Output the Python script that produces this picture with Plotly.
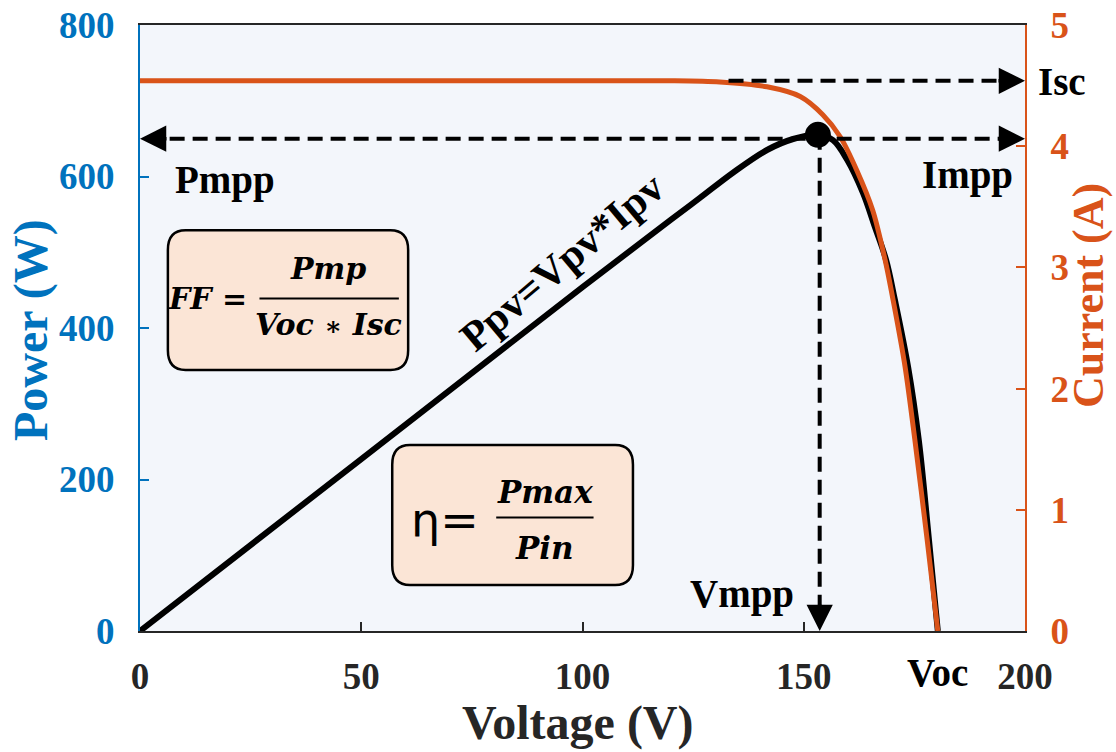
import plotly.graph_objects as go

# ---------------- data ----------------
voltage_i = [0, 20, 40, 60, 80, 100, 120, 131, 141.7, 149.2, 154.3, 158.2, 162.0,
             165.6, 168.4, 170.2, 172.9, 175.1, 177.9, 180.3]
current = [4.54, 4.54, 4.54, 4.54, 4.54, 4.54, 4.54, 4.53, 4.49, 4.41, 4.26, 4.08,
           3.80, 3.47, 3.06, 2.73, 2.18, 1.58, 0.75, 0.0]

voltage_p = [0, 50, 100, 120, 126.6, 134, 141.7, 147.6, 153.2, 156.6, 159.8, 163.4,
             166.1, 168.6, 170.6, 173.6, 176, 178.3, 180.3]
power = [0, 227, 454, 543, 572, 605, 635, 649.5, 655, 648, 622, 578, 533, 490, 437,
         348, 252, 120, 0]

v_mpp, p_mpp = 153.2, 655
p_line = 650
isc = 4.54
isc_start = 133

x_ticks = [0, 50, 100, 150, 200]
p_ticks = [0, 200, 400, 600, 800]
i_ticks = [0, 1, 2, 3, 4, 5]

BLUE = "#0072BD"
ORANGE = "#D95319"
DARK = "#262626"
SERIF = "Liberation Serif"
MATH = "DejaVu Serif"
BOX_FILL = "#FBE5D6"

fig = go.Figure()

fig.add_trace(go.Scatter(x=voltage_p, y=power, mode="lines", yaxis="y",
                         line=dict(color="black", width=6, shape="spline", smoothing=1.0),
                         showlegend=False, hoverinfo="skip"))
fig.add_trace(go.Scatter(x=voltage_i, y=current, mode="lines", yaxis="y2",
                         line=dict(color=ORANGE, width=5, shape="spline", smoothing=0.8),
                         showlegend=False, hoverinfo="skip"))
fig.add_trace(go.Scatter(x=[v_mpp], y=[p_mpp], mode="markers", yaxis="y",
                         marker=dict(color="black", size=26),
                         showlegend=False, hoverinfo="skip"))

DASH = "15px,8px"
shapes = []
shapes.append(dict(type="line", xref="x", yref="y", x0=1.5, x1=198.5, y0=p_line, y1=p_line,
                   line=dict(color="black", width=4, dash=DASH)))
shapes.append(dict(type="line", xref="x", yref="y2", x0=isc_start, x1=198.5, y0=isc, y1=isc,
                   line=dict(color="black", width=4, dash=DASH)))
shapes.append(dict(type="line", xref="x", yref="y", x0=v_mpp + 0.4, x1=v_mpp + 0.4, y0=p_mpp, y1=8,
                   line=dict(color="black", width=4, dash=DASH)))


def rounded_box(x0, x1, y0, y1, rx, ry):
    p = (f"M {x0+rx},{y1} L {x1-rx},{y1} Q {x1},{y1} {x1},{y1-ry} "
         f"L {x1},{y0+ry} Q {x1},{y0} {x1-rx},{y0} L {x0+rx},{y0} "
         f"Q {x0},{y0} {x0},{y0+ry} L {x0},{y1-ry} Q {x0},{y1} {x0+rx},{y1} Z")
    return dict(type="path", xref="x", yref="y", path=p, fillcolor=BOX_FILL,
                line=dict(color="black", width=2.5), layer="above")


shapes.append(rounded_box(6.3, 60.6, 344.6, 529, 4.0, 26))
shapes.append(rounded_box(57, 111.4, 60.7, 245.5, 4.0, 26))
shapes.append(dict(type="line", xref="x", yref="y", x0=27, x1=58.5, y0=439, y1=439,
                   line=dict(color="black", width=2)))
shapes.append(dict(type="line", xref="x", yref="y", x0=80.5, x1=102.5, y0=150, y1=150,
                   line=dict(color="black", width=2)))

ann = []


def txt(text, x, y, size=39, xref="x", yref="y", color="black", angle=0, family=SERIF):
    ann.append(dict(text=text, x=x, y=y, xref=xref, yref=yref, showarrow=False,
                    font=dict(family=family, size=size, color=color), textangle=angle,
                    xanchor="center", yanchor="middle"))


def head(x, y, ax, ay, yref="y"):
    ann.append(dict(text="", x=x, y=y, xref="x", yref=yref, ax=ax, ay=ay,
                    showarrow=True, arrowhead=2, arrowsize=1.5, arrowwidth=3.5,
                    arrowcolor="black", standoff=0))


head(0, p_line, 28, 0)
head(200, p_line, -28, 0)
head(200, isc, -28, 0, yref="y2")
head(v_mpp + 0.4, 0, 0, -28)

txt("<b>Pmpp</b>", 19.2, 595)
txt("<b>Isc</b>", 1.042, 0.906, xref="paper", yref="paper")
txt("<b>Impp</b>", 187.1, 602)
txt("<b>Vmpp</b>", 136, 49)
txt("<b>Voc</b>", 180.3, -0.068, yref="paper")
txt("<b>Ppv=Vpv*Ipv</b>", 95.4, 487, size=42, angle=-40)

# FF box
txt("<b><i>FF =</i></b>", 15.2, 439, size=30, family=MATH)
txt("<b><i>Pmp</i></b>", 42.5, 478, size=30, family=MATH)
txt("<b><i>Voc <span style='font-size:26px'>∗</span> Isc</i></b>", 42.5, 404, size=30, family=MATH)
# eta box
txt("η=", 69.0, 146, size=46, family="DejaVu Sans")
txt("<b><i>Pmax</i></b>", 91.5, 184, size=31, family=MATH)
txt("<b><i>Pin</i></b>", 91.5, 110, size=31, family=MATH)

# axis titles
txt("<b>Power (W)</b>", -0.123, 0.497, size=48, xref="paper", yref="paper", color=BLUE, angle=-90)
txt("<b>Current (A)</b>", 1.071, 0.554, size=44, xref="paper", yref="paper", color=ORANGE, angle=-90)
txt("<b>Voltage (V)</b>", 0.495, -0.152, size=48, xref="paper", yref="paper", color=DARK)

fig.update_layout(
    width=1116, height=752,
    margin=dict(l=140, r=91, t=25, b=121, autoexpand=False),
    paper_bgcolor="white",
    plot_bgcolor="#F3F6FB",
    shapes=shapes,
    annotations=ann,
    xaxis=dict(range=[0, 200], tickvals=x_ticks, ticktext=[f"<b>{v}</b>" for v in x_ticks],
               showgrid=False, zeroline=False, showline=True, linecolor=DARK, linewidth=2,
               mirror=True, ticks="inside", ticklen=9, tickwidth=2, tickcolor=DARK,
               automargin=False,
               tickfont=dict(family=SERIF, size=37, color=DARK), ticklabelstandoff=12),
    yaxis=dict(range=[0, 800], tickvals=p_ticks, ticktext=[f"<b>{v}</b>" for v in p_ticks],
               showgrid=False, zeroline=False, showline=True, linecolor=BLUE, linewidth=2,
               ticks="inside", ticklen=9, tickwidth=2, tickcolor=BLUE, automargin=False,
               tickfont=dict(family=SERIF, size=37, color=BLUE), ticklabelstandoff=16),
    yaxis2=dict(range=[0, 5], tickvals=i_ticks, ticktext=[f"<b>{v}</b>" for v in i_ticks],
                overlaying="y", side="right",
                showgrid=False, zeroline=False, showline=True, linecolor=ORANGE, linewidth=2,
                ticks="inside", ticklen=9, tickwidth=2, tickcolor=ORANGE, automargin=False,
                tickfont=dict(family=SERIF, size=37, color=ORANGE), ticklabelstandoff=16),
)

fig.write_html("out.html", post_script="document.body.style.margin='0';",
               config={"displayModeBar": False})
